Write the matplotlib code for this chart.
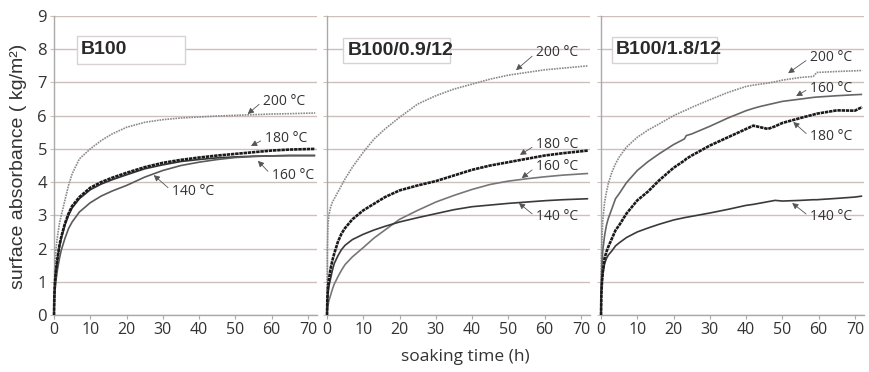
import matplotlib
matplotlib.use("Agg")
import matplotlib.pyplot as plt
from matplotlib.patches import Rectangle

# ---------------- data ----------------
panel_titles = ["B100", "B100/0.9/12", "B100/1.8/12"]
temps = ["200 °C", "180 °C", "160 °C", "140 °C"]
x_ticks = [0, 10, 20, 30, 40, 50, 60, 70]
y_ticks = [0, 1, 2, 3, 4, 5, 6, 7, 8, 9]

t1 = [0, 0.1, 0.25, 0.5, 1, 1.5, 2, 3, 4, 5, 7, 10, 13, 16, 20, 25, 30, 35, 40, 45, 50, 55, 60, 65, 72]
b100_200 = [0, 0.9, 1.5, 1.95, 2.4, 2.75, 3.0, 3.45, 3.9, 4.25, 4.7, 5.0, 5.25, 5.45, 5.65, 5.8, 5.88, 5.93, 5.96, 5.99, 6.01, 6.03, 6.05, 6.06, 6.08]
b100_180 = [0, 0.6, 0.95, 1.3, 1.75, 2.1, 2.35, 2.75, 3.05, 3.28, 3.55, 3.83, 4.0, 4.13, 4.28, 4.45, 4.58, 4.67, 4.74, 4.8, 4.85, 4.9, 4.95, 4.98, 5.0]
b100_160 = [0, 0.55, 0.9, 1.25, 1.7, 2.05, 2.3, 2.7, 3.0, 3.22, 3.5, 3.77, 3.94, 4.07, 4.22, 4.4, 4.52, 4.62, 4.68, 4.73, 4.76, 4.78, 4.79, 4.8, 4.8]
b100_140 = [0, 0.4, 0.7, 1.0, 1.4, 1.7, 1.95, 2.3, 2.6, 2.8, 3.1, 3.38, 3.58, 3.73, 3.9, 4.15, 4.35, 4.5, 4.6, 4.68, 4.74, 4.77, 4.79, 4.8, 4.8]

t2 = [0, 0.1, 0.25, 0.5, 1, 1.5, 2, 3, 4, 5, 7, 10, 13, 16, 20, 25, 30, 35, 40, 45, 50, 55, 60, 65, 72]
b09_200 = [0, 2.0, 2.7, 3.0, 3.25, 3.4, 3.5, 3.7, 3.9, 4.1, 4.45, 4.9, 5.3, 5.6, 5.95, 6.35, 6.6, 6.8, 6.95, 7.1, 7.22, 7.3, 7.38, 7.43, 7.5]
b09_180 = [0, 0.5, 0.8, 1.05, 1.4, 1.65, 1.85, 2.2, 2.45, 2.62, 2.88, 3.15, 3.35, 3.55, 3.75, 3.9, 4.03, 4.2, 4.37, 4.5, 4.6, 4.7, 4.8, 4.87, 4.95]
b09_160 = [0, 0.15, 0.28, 0.42, 0.6, 0.78, 0.93, 1.15, 1.35, 1.52, 1.75, 2.03, 2.32, 2.56, 2.88, 3.15, 3.4, 3.6, 3.78, 3.93, 4.03, 4.1, 4.16, 4.21, 4.26]
b09_140 = [0, 0.35, 0.6, 0.85, 1.1, 1.35, 1.55, 1.78, 1.97, 2.1, 2.27, 2.43, 2.56, 2.67, 2.8, 2.93, 3.05, 3.17, 3.26, 3.31, 3.36, 3.4, 3.44, 3.47, 3.5]

t3 = [0, 0.1, 0.25, 0.5, 1, 1.5, 2, 3, 4, 5, 7, 10, 13, 16, 20, 23, 23.5, 25, 30, 35, 40, 42, 44, 46, 48, 50, 55, 58.5, 59.5, 65, 70, 72]
b18_200 = [0, 1.6, 2.3, 2.85, 3.4, 3.7, 3.95, 4.3, 4.55, 4.75, 5.05, 5.35, 5.57, 5.75, 6.0, 6.15, 6.17, 6.25, 6.48, 6.7, 6.88, 6.92, 6.95, 6.98, 7.02, 7.07, 7.15, 7.18, 7.3, 7.33, 7.35, 7.36]
b18_160 = [0, 1.0, 1.5, 1.95, 2.4, 2.7, 2.9, 3.2, 3.5, 3.65, 3.98, 4.35, 4.62, 4.85, 5.13, 5.3, 5.4, 5.45, 5.68, 5.93, 6.15, 6.22, 6.28, 6.33, 6.38, 6.43, 6.5, 6.55, 6.56, 6.6, 6.63, 6.64]
b18_180 = [0, 0.6, 0.95, 1.3, 1.72, 1.9, 2.05, 2.3, 2.55, 2.7, 3.05, 3.45, 3.72, 4.05, 4.43, 4.65, 4.7, 4.8, 5.1, 5.35, 5.6, 5.7, 5.65, 5.6, 5.68, 5.78, 5.93, 6.03, 6.06, 6.16, 6.15, 6.26]
b18_140 = [0, 0.7, 1.0, 1.25, 1.55, 1.7, 1.8, 1.93, 2.08, 2.17, 2.33, 2.5, 2.62, 2.73, 2.86, 2.93, 2.94, 2.97, 3.07, 3.18, 3.3, 3.33, 3.37, 3.41, 3.45, 3.43, 3.45, 3.47, 3.47, 3.51, 3.55, 3.58]

panels = [
    (t1, {"200 °C": b100_200, "180 °C": b100_180, "160 °C": b100_160, "140 °C": b100_140}),
    (t2, {"200 °C": b09_200, "180 °C": b09_180, "160 °C": b09_160, "140 °C": b09_140}),
    (t3, {"200 °C": b18_200, "180 °C": b18_180, "160 °C": b18_160, "140 °C": b18_140}),
]

# ---------------- styling ----------------
narrow = ["Liberation Sans Narrow", "Open Sans", "DejaVu Sans"]
plt.rcParams["font.family"] = narrow

styles = {
    "200 °C": dict(color="#8a8a8a", lw=1.2, ls=(0, (1.0, 0.6))),
    "180 °C": dict(color="#1a1a1a", lw=1.9, ls=(0, (1.3, 0.3))),
    "160 °C": dict(color="#555555", lw=1.2, ls="-"),
    "140 °C": dict(color="#444444", lw=1.2, ls="-"),
}
styles_panel = [
    {"160 °C": "#333333", "140 °C": "#5a5a5a"},
    {"160 °C": "#777777", "140 °C": "#3a3a3a"},
    {"160 °C": "#666666", "140 °C": "#3a3a3a"},
]

# annotation layout (tip, text) in data coordinates
annots = [
    {"200 °C": ((53.4, 6.05), (57.6, 6.44)), "180 °C": ((54.3, 5.09), (58.1, 5.30)),
     "160 °C": ((56.2, 4.64), (60.0, 4.21)), "140 °C": ((27.5, 4.21), (32.5, 3.73))},
    {"200 °C": ((52.1, 7.37), (57.6, 7.89)), "180 °C": ((53.2, 4.82), (57.6, 5.12)),
     "160 °C": ((53.7, 4.12), (57.6, 4.46)), "140 °C": ((52.9, 3.37), (57.6, 2.95))},
    {"200 °C": ((51.6, 7.28), (57.6, 7.74)), "160 °C": ((53.8, 6.59), (57.6, 6.83)),
     "180 °C": ((53.0, 5.81), (57.6, 5.36)), "140 °C": ((52.7, 3.37), (57.6, 2.95))},
]
boxes = [(6.3, 7.56, 29.8, 0.84), (4.4, 7.59, 29.4, 0.74), (3.0, 7.59, 29.1, 0.78)]

W, H = 869, 372
fig = plt.figure(figsize=(W / 100, H / 100), dpi=100)
lefts = [54, 327, 601]
axw = 263
bottom = (H - 315) / H
height = (315 - 16) / H

grid_c = "#cdbfbc"
spine_c = "#a9a9a9"

for i, (t, series) in enumerate(panels):
    ax = fig.add_axes([lefts[i] / W, bottom, axw / W, height])
    ax.set_xlim(0, 72.5)
    ax.set_ylim(0, 9)
    ax.set_yticks(y_ticks)
    ax.set_xticks(x_ticks)
    ax.yaxis.grid(True, color=grid_c, lw=1.0)
    ax.set_axisbelow(True)
    for s in ["top", "right"]:
        ax.spines[s].set_visible(False)
    for s in ["left", "bottom"]:
        ax.spines[s].set_color(spine_c)
        ax.spines[s].set_linewidth(1.0)
    ax.tick_params(axis="x", length=3, color=spine_c, labelsize=11.5, pad=2, labelcolor="#333333")
    ax.tick_params(axis="y", length=3, color=grid_c, labelsize=12, pad=2, labelcolor="#333333")
    if i > 0:
        ax.tick_params(axis="y", labelleft=False)

    for name in ["200 °C", "160 °C", "140 °C", "180 °C"]:
        st = dict(styles[name])
        if name in styles_panel[i]:
            st["color"] = styles_panel[i][name]
        ax.plot(t, series[name], color=st["color"], lw=st["lw"], ls=st["ls"],
                solid_capstyle="butt", clip_on=False, zorder=3)

    for name, (tip, txt) in annots[i].items():
        ax.annotate(name, xy=tip, xytext=txt, ha="left", va="center",
                    fontsize=10, color="#333333", zorder=5,
                    arrowprops=dict(arrowstyle="-|>,head_length=0.35,head_width=0.18",
                                    color="#555555", lw=0.6, shrinkA=1, shrinkB=0,
                                    relpos=(0, 0.5)))

    bx, by, bw, bh = boxes[i]
    ax.add_patch(Rectangle((bx, by), bw, bh, facecolor="white", edgecolor="#d9d2d2",
                           lw=1.0, zorder=4))
    ax.text(bx + 1.2, by + bh / 2, panel_titles[i], ha="left", va="center",
            fontsize=14, fontweight="bold", family=["Liberation Sans", "DejaVu Sans"],
            color="#2a2a2a", zorder=5)

fig.text(0.021, 0.553, "surface absorbance ( kg/m²)", rotation=90, ha="center", va="center",
         fontsize=14, family=["Liberation Sans", "DejaVu Sans"], color="#333333")
fig.text(0.536, 0.04, "soaking time (h)", ha="center", va="center", fontsize=12.5, color="#333333")

fig.savefig("out.png", dpi=100, facecolor="white")
